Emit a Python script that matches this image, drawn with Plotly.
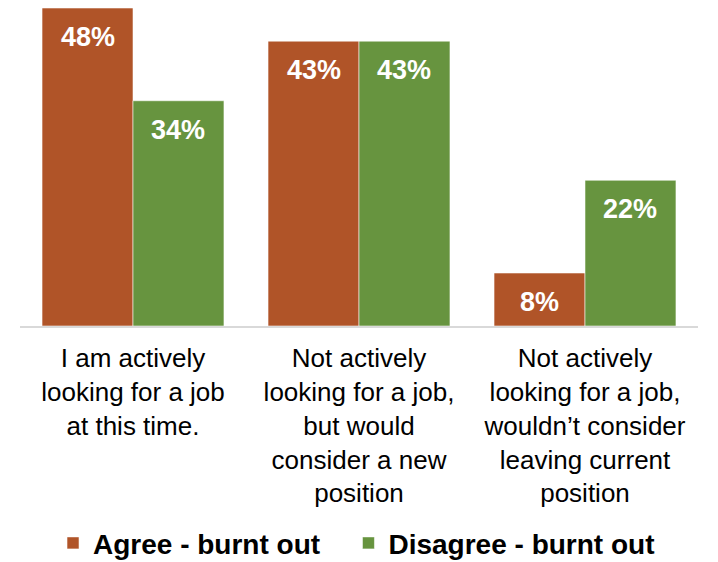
import plotly.graph_objects as go

categories = [
    "I am actively<br>looking for a job<br>at this time.",
    "Not actively<br>looking for a job,<br>but would<br>consider a new<br>position",
    "Not actively<br>looking for a job,<br>wouldn’t consider<br>leaving current<br>position",
]
series_names = ["Agree - burnt out", "Disagree - burnt out"]
agree = [48, 43, 8]
disagree = [34, 43, 22]
colors = ["#B05428", "#67943F"]

FONT = "Liberation Sans, Arial, sans-serif"
bargap = 0.195
pads = ["\u00a0\u00a0\u00a0", ""]  # visual gap between legend entries
fig = go.Figure()
for name, vals, col, pad in zip(series_names, [agree, disagree], colors, pads):
    fig.add_trace(go.Bar(
        x=categories, y=vals, name=f"<b>{name}{pad}</b>",
        marker=dict(color=col, line=dict(color="rgba(255,255,255,0.55)", width=1)),
    ))

bw = (1 - bargap) / 2
for k, vals in enumerate([agree, disagree]):
    off = -bw / 2 if k == 0 else bw / 2
    for i, v in enumerate(vals):
        fig.add_annotation(
            x=i + off, y=v, xref="x", yref="y", text=f"<b>{v}%</b>",
            showarrow=False, yshift=-29, yanchor="middle",
            font=dict(family=FONT, size=27, color="white"),
        )

fig.update_layout(
    width=718, height=562,
    margin=dict(l=12, r=28, t=0, b=244, autoexpand=False),
    barmode="group", bargap=bargap, bargroupgap=0,
    plot_bgcolor="white", paper_bgcolor="white",
    font=dict(family=FONT, color="black"),
    showlegend=True,
    legend=dict(
        orientation="h", x=0.0487, xanchor="left", y=-0.683, yanchor="middle",
        font=dict(size=28, color="black", family=FONT),
        traceorder="normal",
    ),
    xaxis=dict(
        showline=True, linecolor="#D9D9D9", linewidth=2, ticks="",
        tickfont=dict(size=26, color="black"), showgrid=False,
        automargin=False, ticklabelstandoff=8,
    ),
    yaxis=dict(range=[0, 48], visible=False, showgrid=False, automargin=False),
)

fig.write_html("out.html")
